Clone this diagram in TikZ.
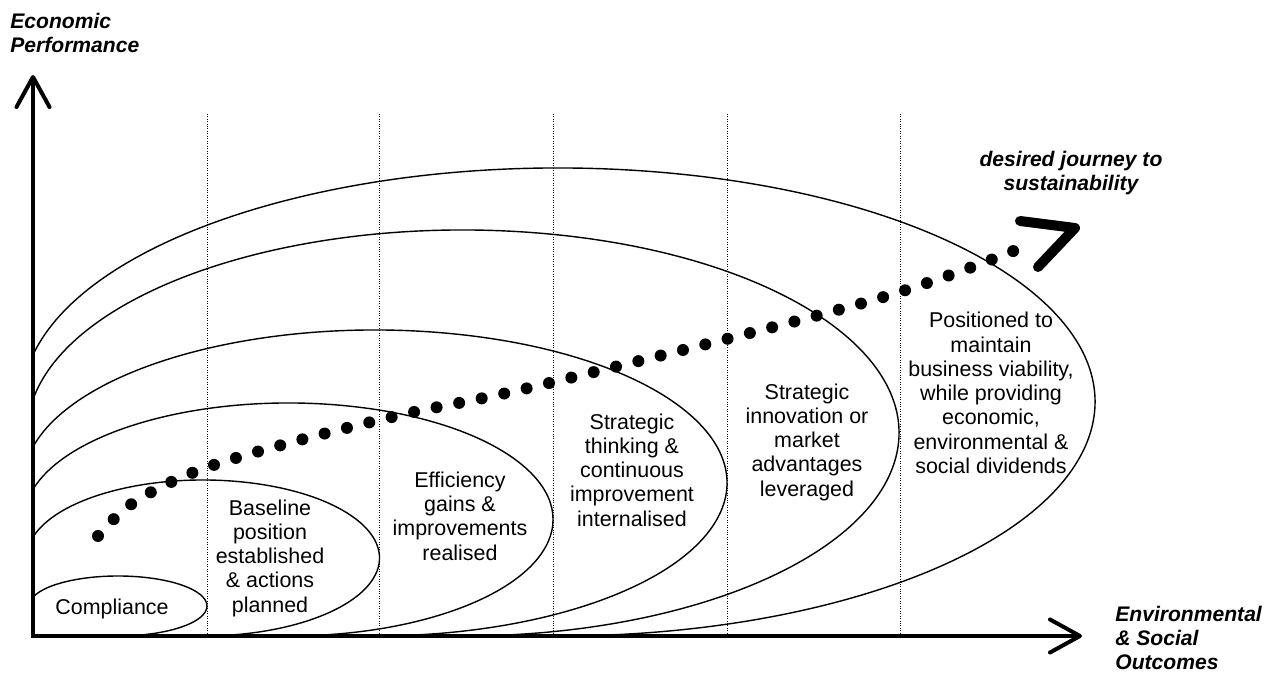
\documentclass[tikz,border=0pt]{standalone}
\usepackage{fontspec}
\setmainfont{Liberation Sans}
\usetikzlibrary{arrows.meta}
\begin{document}
\begin{tikzpicture}[
        lbl/.style={align=center, font=\fontsize{12.2}{13.8}\selectfont, inner sep=1pt},
        ttl/.style={font=\fontsize{12}{13.8}\selectfont\bfseries\itshape, inner sep=0pt},
        stage/.style={line width=0.8pt},
        axis/.style={line width=0.08cm, line join=miter,
            {Straight Barb[length=0.6cm, width=0.66cm, round]}-{Straight Barb[length=0.6cm, width=0.66cm, round]}}]
        \useasboundingbox (-0.66,-0.88) rectangle (24.88,12.72);

        % stage borders
        \foreach \x in {3.48,6.92,10.40,13.88,17.34}
            \draw[densely dotted, line width=0.4pt] (\x,0) -- (\x,10.46);

        % stages
        \foreach \cx/\rx/\ry/\a in {1.70/1.78/0.60/162.5, 3.40/3.53/1.56/164.4, 5.11/5.29/2.33/165.3,
                6.84/7.04/3.06/166.4, 8.60/8.72/4.06/170.1, 10.51/10.73/4.68/168.5}
            \draw[stage] (\cx,\ry) ++(\a:\rx cm and \ry cm)
                arc [start angle=\a, end angle=-90, x radius=\rx, y radius=\ry];

        % axes
        \coordinate (o) at (0,0);
        \coordinate (ytip) at (0,11.22);
        \coordinate (xtip) at (20.98,0);
        \draw[axis] (ytip) -- (o) -- (xtip);

        % journey
        \draw[line width=0.24cm, line cap=round, dash pattern=on 0pt off 0.46cm]
            plot[smooth, tension=0.6] coordinates {(1.30,2.00) (2.00,2.66) (3.28,3.30) (5.12,3.86)
                (7.44,4.44) (10.24,5.04) (16.74,6.70) (19.90,7.82)};
        \coordinate (w1) at (19.74,8.30);
        \coordinate (tip) at (20.84,8.16);
        \coordinate (w2) at (20.10,7.38);
        \draw[line width=0.2cm, line cap=round, line join=round] (w1) -- (tip) -- (w2);

        % labels
        \node[ttl, align=left, anchor=west] (ylab) at (-0.46,12.06) {Economic\\Performance};
        \node[ttl, align=left, anchor=west] (xlab) at (21.64,-0.04) {Environmental\\\& Social\\Outcomes};
        \node[ttl, align=center] (goal) at (20.76,9.26) {desired journey to\\sustainability};
        \node[lbl] (s1) at (1.58,0.54) {Compliance};
        \node[lbl] (s2) at (4.74,1.56) {Baseline\\position\\established\\\& actions\\planned};
        \node[lbl] (s3) at (8.54,2.40) {Efficiency\\gains \&\\improvements\\realised};
        \node[lbl] (s4) at (11.98,3.32) {Strategic\\thinking \&\\continuous\\improvement\\internalised};
        \node[lbl] (s5) at (15.48,3.88) {Strategic\\innovation or\\market\\advantages\\leveraged};
        \node[lbl] (s6) at (19.16,4.86) {Positioned to\\maintain\\business viability,\\while providing\\economic,\\environmental \&\\social dividends};
\end{tikzpicture}
\end{document}
